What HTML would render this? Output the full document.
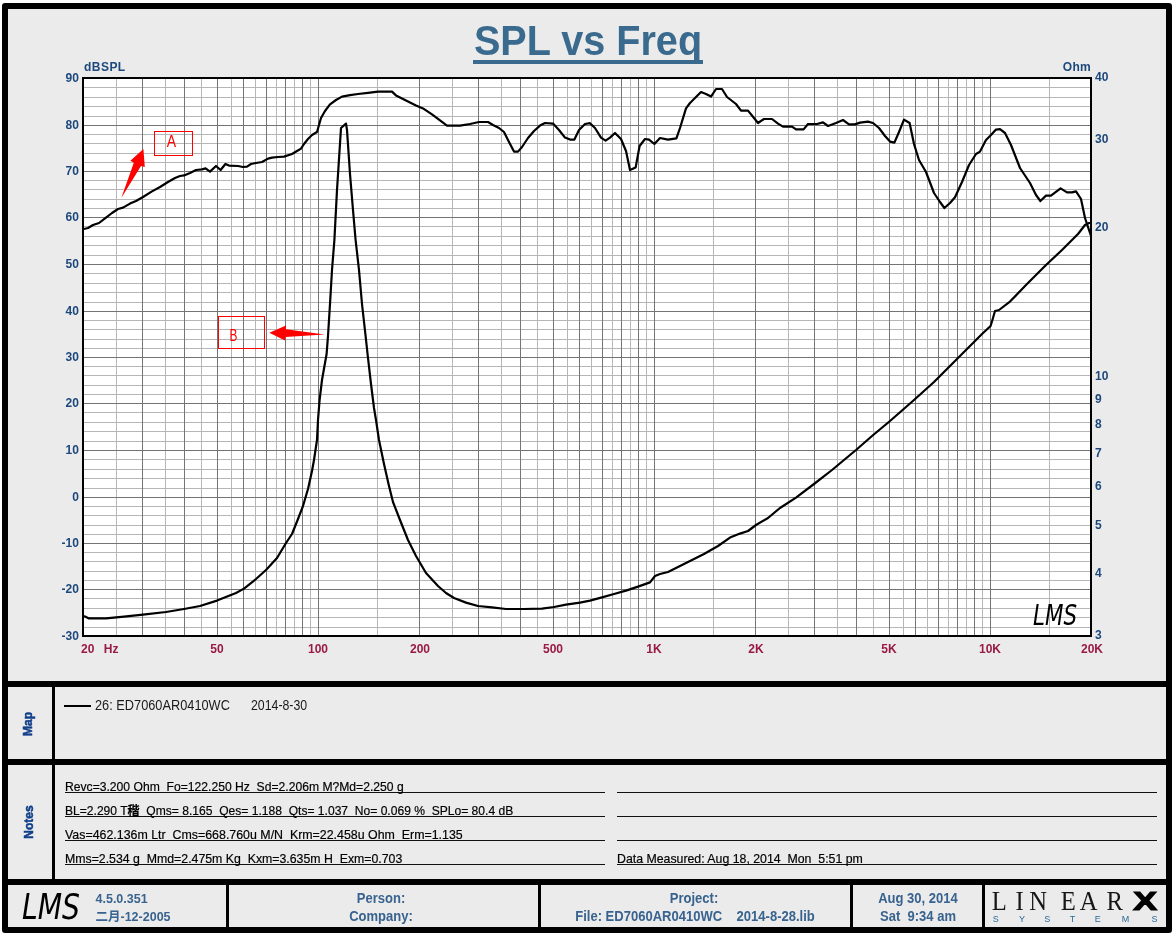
<!DOCTYPE html>
<html lang="en"><head><meta charset="utf-8"><title>SPL vs Freq</title>
<style>
html,body{margin:0;padding:0;background:#fff;}
body{width:1175px;height:939px;position:relative;overflow:hidden;font-family:"Liberation Sans","Noto Sans CJK SC",sans-serif;}
.frame{position:absolute;left:2px;top:3px;width:1158px;height:918px;border:6px solid #000;background:#ebebeb;border-radius:3px;}
.bar{position:absolute;background:#000;}
.plot{position:absolute;left:0;top:0;}
.title{position:absolute;left:388px;width:400px;top:18.2px;text-align:center;font-size:41.7px;transform:scaleX(.95);font-weight:bold;color:#3a6a8d;line-height:46px;white-space:nowrap;}
.tul{position:absolute;left:473px;top:60px;width:229.5px;height:3.8px;background:#3a6a8d;}
.yl,.yr,.xl,.ax{position:absolute;font-size:13.6px;transform:scaleX(.885);font-weight:bold;line-height:16px;white-space:nowrap;}
.yl{left:20px;width:59px;text-align:right;color:#1d487c;transform-origin:100% 50%;}
.yr{left:1095px;color:#1d487c;transform-origin:0 50%;}
.ax{color:#1d487c;letter-spacing:.5px;transform-origin:0 50%;}
.xl{top:640.5px;width:60px;text-align:center;color:#991a47;}
.side{position:absolute;-webkit-text-stroke:.5px #123f8a;font-size:12px;font-weight:bold;color:#123f8a;white-space:nowrap;line-height:14px;transform:translate(-50%,-50%) rotate(-90deg);}
.t{position:absolute;transform-origin:0 50%;font-size:13px;line-height:16px;color:#000;-webkit-text-stroke:.2px #000;white-space:pre;}
.ln{position:absolute;height:1px;background:#111;}
.f{position:absolute;font-size:14px;transform:scaleX(.93);font-weight:bold;line-height:16px;color:#38638f;white-space:pre;}
.fc{text-align:center;}
</style></head><body>
<div class="frame"></div>
<div class="title" id="ttl">SPL vs Freq</div><div class="tul"></div>
<svg class="plot" width="1175" height="939" viewBox="0 0 1175 939">
<rect x="83" y="78" width="1008" height="558" fill="#fff" stroke="#000" stroke-width="2"/>
<path d="M116.5 79V636M165.5 79V636M201.5 79V636M231.5 79V636M255.5 79V636M276.5 79V636M294.5 79V636M310.5 79V636M377.5 79V636M452.5 79V636M501.5 79V636M537.5 79V636M567.5 79V636M591.5 79V636M612.5 79V636M630.5 79V636M646.5 79V636M713.5 79V636M788.5 79V636M837.5 79V636M873.5 79V636M903.5 79V636M927.5 79V636M948.5 79V636M966.5 79V636M982.5 79V636M1049.5 79V636M84 87.5H1090M84 97.5H1090M84 106.5H1090M84 116.5H1090M84 134.5H1090M84 143.5H1090M84 153.5H1090M84 162.5H1090M84 180.5H1090M84 189.5H1090M84 199.5H1090M84 208.5H1090M84 226.5H1090M84 236.5H1090M84 245.5H1090M84 255.5H1090M84 273.5H1090M84 283.5H1090M84 292.5H1090M84 302.5H1090M84 320.5H1090M84 329.5H1090M84 339.5H1090M84 348.5H1090M84 366.5H1090M84 375.5H1090M84 385.5H1090M84 394.5H1090M84 412.5H1090M84 422.5H1090M84 431.5H1090M84 441.5H1090M84 459.5H1090M84 469.5H1090M84 478.5H1090M84 488.5H1090M84 506.5H1090M84 515.5H1090M84 525.5H1090M84 534.5H1090M84 552.5H1090M84 561.5H1090M84 571.5H1090M84 580.5H1090M84 598.5H1090M84 608.5H1090M84 617.5H1090M84 627.5H1090" stroke="#b6b6b6" stroke-width="1" fill="none" shape-rendering="crispEdges"/>
<path d="M142.5 79V636M184.5 79V636M217.5 79V636M243.5 79V636M266.5 79V636M285.5 79V636M302.5 79V636M318.5 79V636M419.5 79V636M478.5 79V636M520.5 79V636M553.5 79V636M579.5 79V636M602.5 79V636M621.5 79V636M638.5 79V636M654.5 79V636M755.5 79V636M814.5 79V636M856.5 79V636M889.5 79V636M915.5 79V636M938.5 79V636M957.5 79V636M974.5 79V636M990.5 79V636M84 125.5H1090M84 171.5H1090M84 217.5H1090M84 264.5H1090M84 311.5H1090M84 357.5H1090M84 403.5H1090M84 450.5H1090M84 497.5H1090M84 543.5H1090M84 589.5H1090" stroke="#747474" stroke-width="1" fill="none" shape-rendering="crispEdges"/>
<polyline points="84,229 88,228 93,225 99,223 106,217.6 112,213 118,209 123,207.6 130,203.6 136,201 143,197 152,191.4 160,187 168,182 175,178 180,176 184,175.4 190,173 196,170 202,169.4 205.6,168.4 210,171.6 216,166 220.6,170 225.4,164 229,165.6 238,166 243,167 247,166.6 251,164 256,163 262,162 268,158.6 272,157.6 278,157 284,156.6 292,154 297,151 301,148.6 304,144 308,139 312,135 317,132 321,118 325,111 330,104.4 336,100 342,96.6 350,95.2 358,94 368,92.8 378,91.6 392,91.6 396,95.4 406,100.6 416,105.6 423,108.4 432,114.4 440,120.4 447,125.6 460,125.6 470,124 479,122 488,122 493,125 499,128 504,132 509,142 514,151.6 518,151.6 522,147 528,138 534,131 540,125.6 545,123 553,123.6 559,130 565,137.6 570,139.6 574.4,139.6 579,130 585,124 590,123.2 595,128 601,137.6 605.6,140.6 610,137.6 615,133 621,139 626,151 630,170 635.6,167.6 639.6,146 645,139 649,139.6 654.4,144 660,138 668,139.6 676.4,138.4 680,128 686,108.4 690,103 696,97 701,92 706,94 711,96.6 716,89 722,89 727,97 736,104 741,110.6 748,110.6 754,118 758,123 764,119 772,119 778,123.6 783,126.6 792,126.6 796,129.4 803.6,129.4 808,124 817,124 823,122.4 828,126 836,123 843,120 849,124.4 855,124.4 860,122.6 868,121.6 873,123 879,128 885,136 890,141.6 894.4,142.6 899,132 904,119.6 909.6,123 914,144 919,160 926,172 934,193 940,202 944.4,208 950,203 955,197.2 962,182 969,165 976,154 980,151.6 986,140 991,135 996,129.6 1000,129.2 1005,133 1011,145 1020,168 1030,183 1036,195 1040.4,201 1046,195.6 1051,195.6 1060.6,188.4 1067,192.4 1072,192.4 1076,191.4 1081,199 1085,218 1089,230 1091,236" fill="none" stroke="#000" stroke-width="2.2" stroke-linejoin="round"/>
<polyline points="84,616 89,618.4 106,618.4 124,616.6 143,614.6 166,612 184,609 200,606 217,600.6 236,593 244,588.6 256,579 266,570 277,558 286,543 292,534 298,519 303,506 308,489 312,471 314,460 317,440 318,420 319.6,400 322,380 326.6,354 328,336 330,304 332,270 334.4,240 337,190 341,128 346,123.6 347,130 350,174 353,210 355.6,240 359,270 362,304 365.6,336 368,358 371,384 374,408 376,420 379,440 384,464 389,486 393,502 400,520 408,540 416,556 426,573 438,586 446,593 454,598 466,602.6 478,606 492,607.4 506,609 524,609 542,608.6 554,607 566,604.6 580,602.6 590,600.6 602,597.4 614,594 626,590.6 638,586.6 650,582.4 655,576 660,574 668,572 680,566 692,560 704,554 718,546 730,537.6 740,533.6 748,531 756,525 768,518 780,508 796,497.6 814,484 832,470 856,450 872,436 890,421 914,400 934,382 950,366 968,348 982,334 990.6,326 993,318 995,311 999,310 1010,301.6 1026,285 1046,265 1062,250 1078,234 1085,225 1089,223 1091,223" fill="none" stroke="#000" stroke-width="2.2" stroke-linejoin="round"/>
<rect x="83" y="78" width="1008" height="558" fill="none" stroke="#000" stroke-width="2"/>
<polygon points="121.3,198.1 133.8,162.7 130.4,160.7 143.4,149.1 144.8,167 141,166" fill="#ff0000"/>
<rect x="154.5" y="131.5" width="38" height="24" fill="none" stroke="#ff0000" stroke-width="1"/>
<text x="171.5" y="147.2" text-anchor="middle" font-size="16.5" fill="#ff0000" transform="translate(171.5 0) scale(.85 1) translate(-171.5 0)">A</text>
<polygon points="269.3,332.8 286,325.4 286,329.2 324.7,334.6 285.4,336.9 285.1,340.5" fill="#ff0000"/>
<rect x="218.5" y="316.5" width="46" height="32" fill="none" stroke="#ff0000" stroke-width="1"/>
<text x="233.5" y="340.6" text-anchor="middle" font-size="16.4" fill="#ff0000" transform="translate(233.5 0) scale(.72 1) translate(-233.5 0)">B</text>
<text x="1033" y="624.5" font-size="29" font-style="italic" fill="#000" font-family="'DejaVu Sans','Liberation Sans',sans-serif" textLength="44" lengthAdjust="spacingAndGlyphs">LMS</text>
</svg>
<div class="ax" style="left:84px;top:59px">dBSPL</div>
<div class="ax" style="left:1031px;width:60px;text-align:right;top:59px;letter-spacing:.3px;transform-origin:100% 50%">Ohm</div>
<div class="yl" style="top:69.6px">90</div><div class="yl" style="top:116.6px">80</div><div class="yl" style="top:162.6px">70</div><div class="yl" style="top:208.6px">60</div><div class="yl" style="top:255.6px">50</div><div class="yl" style="top:302.6px">40</div><div class="yl" style="top:348.6px">30</div><div class="yl" style="top:394.6px">20</div><div class="yl" style="top:441.6px">10</div><div class="yl" style="top:488.6px">0</div><div class="yl" style="top:534.6px">-10</div><div class="yl" style="top:580.6px">-20</div><div class="yl" style="top:627.6px">-30</div>
<div class="yr" style="top:69.4px">40</div><div class="yr" style="top:131.4px">30</div><div class="yr" style="top:218.7px">20</div><div class="yr" style="top:368.0px">10</div><div class="yr" style="top:390.7px">9</div><div class="yr" style="top:416.1px">8</div><div class="yr" style="top:444.9px">7</div><div class="yr" style="top:478.1px">6</div><div class="yr" style="top:517.3px">5</div><div class="yr" style="top:565.4px">4</div><div class="yr" style="top:627.4px">3</div>
<div class="xl" style="left:80.6px;width:auto;text-align:left;transform-origin:0 50%">20&nbsp;&nbsp;<span style="margin-left:3px">Hz</span></div>
<div class="xl" style="left:187.2px">50</div><div class="xl" style="left:288.4px">100</div><div class="xl" style="left:389.5px">200</div><div class="xl" style="left:523.2px">500</div><div class="xl" style="left:624.4px">1K</div><div class="xl" style="left:725.5px">2K</div><div class="xl" style="left:859.2px">5K</div><div class="xl" style="left:960.4px">10K</div><div class="xl" style="left:1061.5px">20K</div>
<div class="bar" style="left:8px;top:681px;width:1158px;height:6px"></div>
<div class="bar" style="left:8px;top:759px;width:1158px;height:6px"></div>
<div class="bar" style="left:8px;top:879px;width:1158px;height:6px"></div>
<div class="bar" style="left:52px;top:687px;width:3px;height:192px"></div>
<div class="bar" style="left:226px;top:885px;width:3px;height:42px"></div>
<div class="bar" style="left:538px;top:885px;width:3px;height:42px"></div>
<div class="bar" style="left:850px;top:885px;width:3px;height:42px"></div>
<div class="bar" style="left:982px;top:885px;width:3px;height:42px"></div>
<div class="side" style="left:28.2px;top:724px">Map</div>
<div class="side" style="left:28.5px;top:822px">Notes</div>
<div class="bar" style="left:64px;top:705px;width:27px;height:2px"></div>
<div class="t" id="lg1" style="-webkit-text-stroke:0;color:#1a1a1a;left:94.8px;top:696.5px;font-size:14px;transform:scaleX(0.912)">26: ED7060AR0410WC</div>
<div class="t" id="lg2" style="-webkit-text-stroke:0;color:#1a1a1a;left:251px;top:696.5px;font-size:14px;transform:scaleX(0.880)">2014-8-30</div>
<div class="ln" style="left:65px;top:792px;width:540px"></div>
<div class="ln" style="left:65px;top:816px;width:540px"></div>
<div class="ln" style="left:65px;top:840px;width:540px"></div>
<div class="ln" style="left:65px;top:864px;width:540px"></div>
<div class="ln" style="left:617px;top:792px;width:540px"></div>
<div class="ln" style="left:617px;top:816px;width:540px"></div>
<div class="ln" style="left:617px;top:840px;width:540px"></div>
<div class="ln" style="left:617px;top:864px;width:540px"></div>
<div class="t" id="n1" style="left:65px;top:779px;transform:scaleX(0.9336)">Revc=3.200 Ohm  Fo=122.250 Hz  Sd=2.206m M?Md=2.250 g</div>
<div class="t" id="n2" style="left:65px;top:803px;transform:scaleX(0.9289)">BL=2.290 T<b>稭</b>  Qms= 8.165  Qes= 1.188  Qts= 1.037  No= 0.069 %  SPLo= 80.4 dB</div>
<div class="t" id="n3" style="left:65px;top:827px;transform:scaleX(0.9528)">Vas=462.136m Ltr  Cms=668.760u M/N  Krm=22.458u Ohm  Erm=1.135</div>
<div class="t" id="n4" style="left:65px;top:851px;transform:scaleX(0.9469)">Mms=2.534 g  Mmd=2.475m Kg  Kxm=3.635m H  Exm=0.703</div>
<div class="t" id="n5" style="left:617px;top:851px;transform:scaleX(0.9474)">Data Measured: Aug 18, 2014  Mon  5:51 pm</div>
<svg class="plot" style="left:18px;top:888px" width="66" height="36" viewBox="0 0 66 36"><text x="4" y="31" font-size="35" font-style="italic" fill="#000" font-family="'DejaVu Sans','Liberation Sans',sans-serif" textLength="58" lengthAdjust="spacingAndGlyphs">LMS</text></svg>
<div class="f" id="f1" style="left:95.5px;top:891px;font-size:12.5px;transform:none">4.5.0.351</div>
<div class="f" id="f2" style="left:95.5px;top:909px;font-size:12.5px;transform:none">二月-12-2005</div>
<div class="f fc" id="f3" style="left:281px;width:200px;top:890.3px">Person:</div>
<div class="f fc" id="f4" style="left:281px;width:200px;top:908.3px">Company:</div>
<div class="f fc" id="f5" style="left:543.5px;width:300px;top:890.3px">Project:</div>
<div class="f fc" id="f6" style="left:544.5px;width:300px;top:908.3px">File: ED7060AR0410WC    2014-8-28.lib</div>
<div class="f fc" id="f7" style="left:817.5px;width:200px;top:890.3px">Aug 30, 2014</div>
<div class="f fc" id="f8" style="left:817.5px;width:200px;top:908.3px">Sat  9:34 am</div>
<svg class="plot" width="1175" height="939" viewBox="0 0 1175 939">
<text transform="scale(.88 1)" y="909.9" x="1127.0 1154.1 1169.7 1205.5 1227.0 1257.5" font-family="'Liberation Serif',serif" font-size="28" fill="#161616">LINEAR</text>
<text transform="translate(1133.2 909.9) scale(1.37 1)" x="0" y="0" font-family="'Liberation Sans',sans-serif" font-weight="bold" font-size="26" fill="#000" stroke="#000" stroke-width="1.2">X</text>
<text y="921.6" x="995.7 1021.9 1047.2 1072.5 1097.8 1125.6 1154.5" text-anchor="middle" font-family="'Liberation Sans',sans-serif" font-size="9" fill="#2b6a98">SYSTEMS</text>
</svg>
</body></html>
